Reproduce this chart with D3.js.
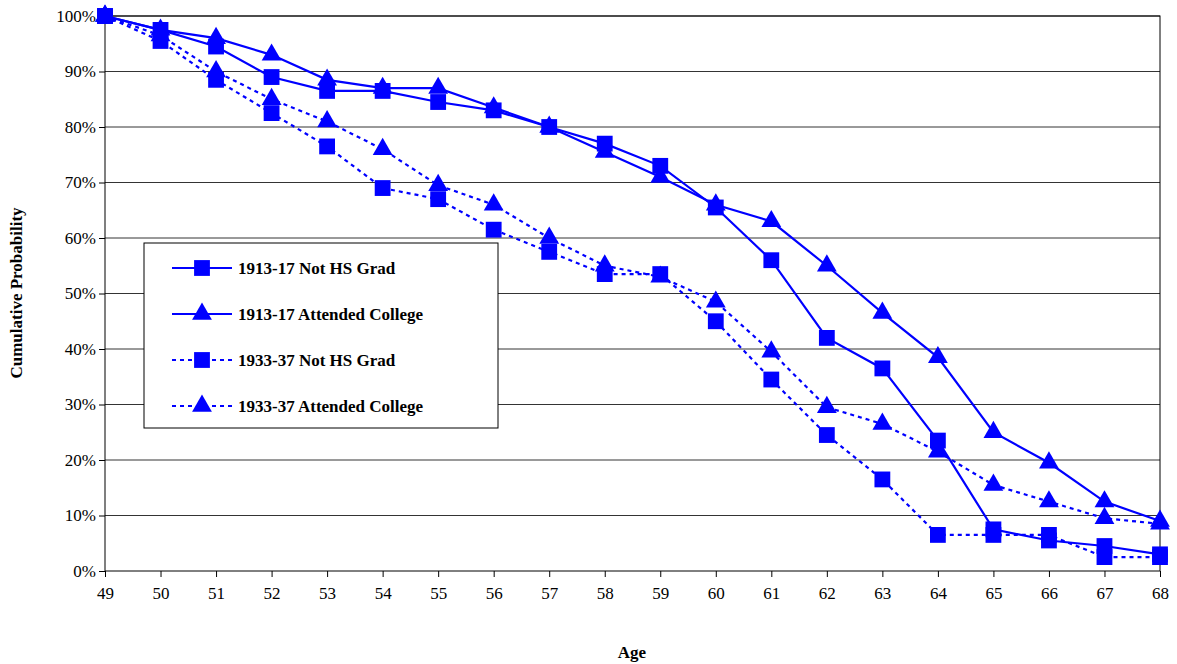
<!DOCTYPE html>
<html><head><meta charset="utf-8">
<script src="https://cdn.jsdelivr.net/npm/d3@7"></script>
<style>body{margin:0;background:#fff}svg text{font-family:"Liberation Serif","Times New Roman",serif !important}</style>
</head><body><svg id="c" width="1177" height="664"></svg>
<script>
const ages = d3.range(49, 69);
const notHS1913 = [100,97.5,94.5,89,86.5,86.5,84.5,83,80,77,73,65.5,56,42,36.5,23.5,7.5,5.5,4.5,3];
const college1913 = [100,97.5,96,93,88.5,87,87,83.5,80,75.5,71,66,63,55,46.5,38.5,25,19.5,12.5,9];
const notHS1933 = [100,95.5,88.5,82.5,76.5,69,67,61.5,57.5,53.5,53.5,45,34.5,24.5,16.5,6.5,6.5,6.5,2.5,2.5];
const college1933 = [100,96.5,90,85,81,76,69.5,66,60,55,53,48.5,39.5,29.5,26.5,21.5,15.5,12.5,9.5,8.5];
const series = [
  {name:"1913-17 Not HS Grad", values:notHS1913, marker:"square", dash:null},
  {name:"1913-17 Attended College", values:college1913, marker:"triangle", dash:null},
  {name:"1933-37 Not HS Grad", values:notHS1933, marker:"square", dash:"4,4"},
  {name:"1933-37 Attended College", values:college1933, marker:"triangle", dash:"4,4"}
];
const blue = "#0000ff";
const svg = d3.select("#c");
const x = d3.scaleLinear().domain([49,68]).range([105,1160]);
const y = d3.scaleLinear().domain([0,100]).range([571,16]);

svg.append("rect").attr("x",105).attr("y",16).attr("width",1055).attr("height",555)
  .attr("fill","none").attr("stroke","#000").attr("stroke-width",1);
svg.append("g").selectAll("line").data(d3.range(10,101,10)).join("line")
  .attr("x1",105).attr("x2",1160).attr("y1",d=>y(d)).attr("y2",d=>y(d)).attr("stroke","#000").attr("stroke-width",0.8);

const xa = svg.append("g").attr("transform","translate(0,571)")
  .call(d3.axisBottom(x).tickValues(ages).tickFormat(d3.format("d")).tickSize(6));
const ya = svg.append("g").attr("transform","translate(105,0)")
  .call(d3.axisLeft(y).tickValues(d3.range(0,101,10)).tickFormat(d=>d+"%").tickSize(6));
[xa,ya].forEach(a=>{a.attr("font-family",null).attr("font-size",null);a.select(".domain").remove();a.selectAll("text").style("font-size","17px").attr("fill","#000");});
xa.selectAll("text").attr("dy","1.1em");

svg.append("text").attr("x",632).attr("y",658).attr("text-anchor","middle").attr("font-size",17).attr("font-weight","bold").text("Age");
svg.append("text").attr("transform","translate(22,293) rotate(-90)").attr("text-anchor","middle").attr("font-size",17).attr("font-weight","bold").text("Cumulative Probability");

const line = d3.line().x((d,i)=>x(ages[i])).y(d=>y(d));
const sq = d3.symbol().type(d3.symbolSquare).size(250);
const tri = d3.symbol().type(d3.symbolTriangle).size(170);
function mark(g, s){ return g.append("path").attr("d", s.marker==="square"?sq():tri()).attr("fill",blue); }

series.forEach(s=>{
  svg.append("path").attr("d",line(s.values)).attr("fill","none").attr("stroke",blue)
    .attr("stroke-width",2.2).attr("stroke-dasharray",s.dash);
  s.values.forEach((v,i)=>{ mark(svg,s).attr("transform",`translate(${x(ages[i])},${y(v)})`); });
});

const lg = svg.append("g");
lg.append("rect").attr("x",144).attr("y",243).attr("width",354).attr("height",185).attr("fill","#fff").attr("stroke","#000");
series.forEach((s,i)=>{
  const yy = 268 + i*46;
  lg.append("line").attr("x1",172).attr("x2",232).attr("y1",yy).attr("y2",yy).attr("stroke",blue).attr("stroke-width",2.2).attr("stroke-dasharray",s.dash);
  mark(lg,s).attr("transform",`translate(202,${yy})`);
  lg.append("text").attr("x",238).attr("y",yy+6).attr("font-size",17).attr("font-weight","bold").text(s.name);
});
</script></body></html>
